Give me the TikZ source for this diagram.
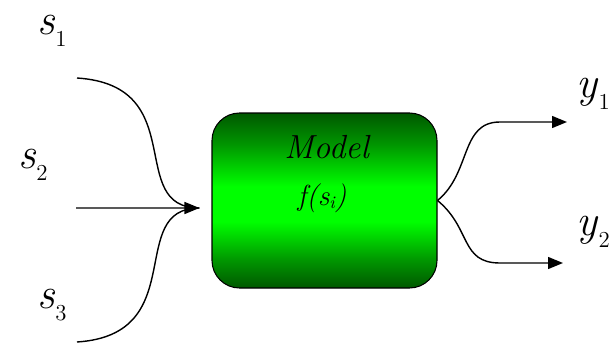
\documentclass[tikz,border=0pt]{standalone}
\usepackage{xcolor}
\usetikzlibrary{arrows.meta,positioning,calc}

\definecolor{deepgreen}{RGB}{0,88,0}
\definecolor{midgreen}{RGB}{0,150,0}
\definecolor{brightgreen}{RGB}{0,255,0}

% dark at the edges, bright band in the middle
\pgfdeclareverticalshading{modelgreen}{100bp}{color(0bp)=(deepgreen); color(25bp)=(deepgreen);
    color(33bp)=(midgreen); color(44bp)=(brightgreen); color(54bp)=(brightgreen);
    color(66bp)=(midgreen); color(75bp)=(deepgreen); color(100bp)=(deepgreen)}

% italic signal name with a lowered index
\newcommand{\signame}[2]{\textit{#1}\raisebox{-7pt}{\fontsize{13}{14}\selectfont #2}}

\begin{document}
\begin{tikzpicture}[every node/.style={font=\fontsize{25}{28}\selectfont},
    sig/.style={line width=0.8pt},
    sigtip/.style={sig, -{Triangle[length=3mm, width=2.4mm]}},
    lbl/.style={anchor=base west, inner sep=0pt}]
    \useasboundingbox (0,0) rectangle (12.2,6.86);

    \node (model) [draw, line width=0.6pt, rounded corners=0.55cm, minimum width=4.5cm, minimum height=3.5cm,
        shading=modelgreen] at (6.49,2.85) {};
    \node (title) [anchor=base, inner sep=0pt, font=\fontsize{19}{22}\selectfont] at (6.55,3.70) {\textit{Model}};
    \node (func) [anchor=base, inner sep=0pt, font=\fontsize{16.5}{18}\selectfont] at (6.44,2.76)
        {\textit{f(s\raisebox{-2pt}{\fontsize{10}{11}\selectfont i})}};

    % inputs
    \node (s1) [lbl] at (0.74,6.18) {\signame{s}{1}};
    \node (s2) [lbl] at (0.36,3.50) {\signame{s}{2}};
    \node (s3) [lbl] at (0.74,0.70) {\signame{s}{3}};
    \coordinate (a1) at (1.54,5.30);
    \coordinate (a2) at (1.52,2.70);
    \coordinate (a3) at (1.54,0.02);
    \coordinate (in) at ($(model.west)+(-0.24,-0.15)$);
    \draw[sig] (a1) .. controls +(2.3,-0.15) and +(-1.5,0) .. (in);
    \draw[sig] (a3) .. controls +(2.3,0.15) and +(-1.5,0) .. (in);
    \draw[sigtip] (a2) -- (in);

    % outputs
    \node (y1) [lbl] at (11.52,4.92) {\signame{y}{1}};
    \node (y2) [lbl] at (11.52,2.16) {\signame{y}{2}};
    \coordinate (b1) at (11.34,4.42);
    \coordinate (b2) at (11.26,1.60);
    \draw[sigtip] (model.east) .. controls +(0.68,0.56) and +(-0.8,0) .. ($(b1)+(-1.34,0)$) -- (b1);
    \draw[sigtip] (model.east) .. controls +(0.68,-0.56) and +(-0.8,0) .. ($(b2)+(-1.26,0)$) -- (b2);
\end{tikzpicture}
\end{document}
